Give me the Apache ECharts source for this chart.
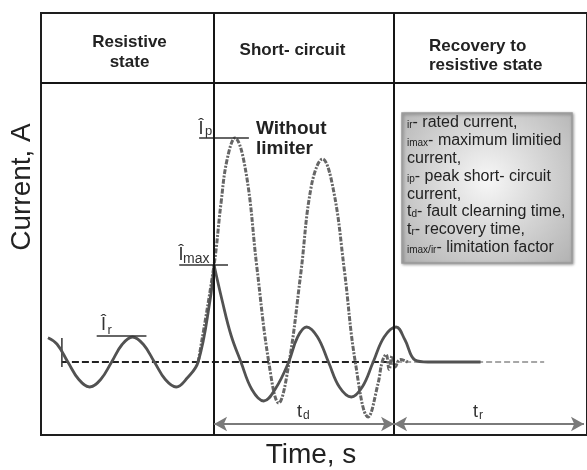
<!DOCTYPE html>
<html><head><meta charset="utf-8">
<script src="https://cdn.jsdelivr.net/npm/echarts@6/dist/echarts.min.js"></script>
<style>html,body{margin:0;padding:0;background:#fff}#c{width:587px;height:470px}</style>
</head><body><div id="c"></div>
<script>
// x: time (ms), y: current in units of rated peak current
const phaseBounds = [40, 81.6];          // fault inception, fault clearing
const timeEnd = 125.5;
const headerLevel = 11.16;
const arrowLevel = -2.48;
const limitedRise = [[1.61,0.97],[3.68,0.72],[6.21,0],[8.74,-0.7],[11.26,-1.0],[13.79,-0.7],[16.32,0],[18.74,0.7],[21.15,1.0],[23.68,0.7],[26.21,0],[28.74,-0.7],[31.26,-1.0],[33.79,-0.64],[36.32,0],[39.08,2.48],[40.0,3.88]];
const limitedDecay = [[40.0,3.88],[41.84,2.48],[43.91,1.08],[46.21,0],[48.74,-1.1],[51.49,-1.56],[54.25,-1.05],[57.24,0],[59.31,1.0],[61.38,1.4],[63.91,1.0],[66.44,0],[68.97,-1.0],[71.72,-1.4],[74.25,-1.0],[76.78,0],[79.31,1.0],[82.07,1.4],[84.14,0.88],[86.44,0.08],[89.43,0],[101.6,0]];
const unlimited = [[36.32,0],[40.0,3.88],[41.61,6.36],[42.99,8.08],[44.83,8.96],[47.36,7.6],[49.89,3.8],[52.64,0],[54.94,-1.64],[57.24,-0.12],[60.0,3.48],[62.53,7.08],[65.06,8.12],[67.59,6.88],[70.11,3.68],[72.64,0],[75.63,-2.2],[77.93,-0.84],[78.85,0],[79.77,0.3],[80.46,-0.3],[81.15,0.25],[81.84,-0.2],[83.0,0.1],[84.8,0]];
const baselineDark = [[4.83,0],[80,0]];
const baselineLight = [[80,0],[116.3,0]];
const startTick = [[4.83,0.96],[4.83,-0.2]];
const irLine = [[12.87,1.04],[24.37,1.04]];
const imaxLine = [[31.95,3.88],[43.22,3.88]];
const ipLine = [[36.55,8.96],[48.05,8.96]];
const headers = ['Resistive\nstate', 'Short- circuit', 'Recovery to\nresistive state'];
const legendLines = ['{s|ir}- rated current,','{s|imax}- maximum limitied','current,','{s|ip}- peak short- circuit','current,','t{s|d}- fault clearning time,','t{s|r}- recovery time,','{s|imax/ir}- limitation factor'];

const FF = '"Liberation Sans", Arial, sans-serif';
const chart = echarts.init(document.getElementById('c'));
function ln(data, color, width, type, smooth){
  return {type:'line', data, symbol:'none', silent:true, smooth: smooth||false, animation:false,
    lineStyle:{color, width, type: type||'solid'}};
}
function txt(x,y,text,opt){
  return Object.assign({type:'text', x, y, silent:true, style:Object.assign({text, fill:'#222', font:'16px '+FF, align:'left', verticalAlign:'middle'}, opt||{})});
}
const option = {
  animation:false,
  grid:{left:41, right:-3, top:13, bottom:35, show:true, borderColor:'#1e1e1e', borderWidth:2},
  xAxis:{type:'value', min:0, max:126.2, show:false},
  yAxis:{type:'value', min:-2.92, max:13.96, show:false},
  series:[
    ln(baselineDark,'#222',2,[7,3]),
    ln(baselineLight,'#8a8a8a',1.5,[6,3]),
    ln(startTick,'#333',1.5),
    ln(unlimited,'#666',3,[5,1.5,2,1.5],0.4),
    ln(limitedRise,'#525252',2.8,'solid',0.4),
    ln(limitedDecay,'#525252',2.8,'solid',0.4),
    ln(irLine,'#333',1.5),
    ln(imaxLine,'#333',1.5),
    ln(ipLine,'#333',1.5),
    {type:'line', data:[], silent:true, markLine:{silent:true, symbol:'none', animation:false, label:{show:false},
      lineStyle:{color:'#151515', width:2, type:'solid'},
      data:[{xAxis:phaseBounds[0]},{xAxis:phaseBounds[1]},{yAxis:headerLevel}]}},
    {type:'line', data:[], silent:true, markLine:{silent:true, symbol:['arrow','arrow'], symbolSize:[11,13], animation:false, label:{show:false},
      lineStyle:{color:'#7a7a7a', width:2, type:'solid'},
      data:[[{coord:[phaseBounds[0],arrowLevel]},{coord:[phaseBounds[1],arrowLevel]}],
            [{coord:[phaseBounds[1],arrowLevel]},{coord:[timeEnd,arrowLevel]}]]}}
  ],
  graphic:[
    txt(129.5,52,headers[0],{font:'bold 17px '+FF, align:'center', lineHeight:20}),
    txt(292.5,50,headers[1],{font:'bold 17px '+FF, align:'center'}),
    txt(429,55.5,headers[2],{font:'bold 17px '+FF, lineHeight:19}),
    {type:'text', x:22, y:187, rotation:Math.PI/2, silent:true, style:{text:'Current, A', fill:'#222', font:'28px '+FF, align:'center', verticalAlign:'middle'}},
    txt(311,455,'Time, s',{font:'28px '+FF, align:'center'}),
    txt(256,138.5,'Without\nlimiter',{font:'bold 19px '+FF, lineHeight:20}),
    txt(103.5,325,'Î',{font:'18px '+FF, align:'center', fill:'#333'}),
    txt(107.5,330,'r',{font:'13px '+FF, fill:'#333'}),
    txt(181,255,'Î',{font:'18px '+FF, align:'center', fill:'#333'}),
    txt(183,259.5,'max',{font:'14px '+FF, fill:'#333'}),
    txt(201,129,'Î',{font:'18px '+FF, align:'center', fill:'#333'}),
    txt(205,131,'p',{font:'13px '+FF, fill:'#333'}),
    txt(297,412,'t',{font:'18px '+FF, fill:'#333'}),
    txt(303,416,'d',{font:'12px '+FF, fill:'#333'}),
    txt(473,412,'t',{font:'18px '+FF, fill:'#333'}),
    txt(479,416,'r',{font:'12px '+FF, fill:'#333'}),
    {type:'rect', shape:{x:402, y:113, width:170, height:150}, silent:true,
      style:{fill:new echarts.graphic.RadialGradient(0.5,0.45,0.75,[{offset:0,color:'#f7f7f7'},{offset:1,color:'#b4b4b4'}]),
        stroke:'#9a9a9a', lineWidth:1.5, shadowBlur:3, shadowColor:'rgba(0,0,0,0.35)', shadowOffsetX:1, shadowOffsetY:1}},
    {type:'text', x:407, y:114, silent:true, style:{text:legendLines.join('\n'), fill:'#222', font:'16px '+FF, lineHeight:17.8, verticalAlign:'top',
      rich:{s:{fontSize:10, fontFamily:FF, fill:'#222', lineHeight:17.8, padding:[5,0,0,0]}}}}
  ]
};
chart.setOption(option);
</script></body></html>
